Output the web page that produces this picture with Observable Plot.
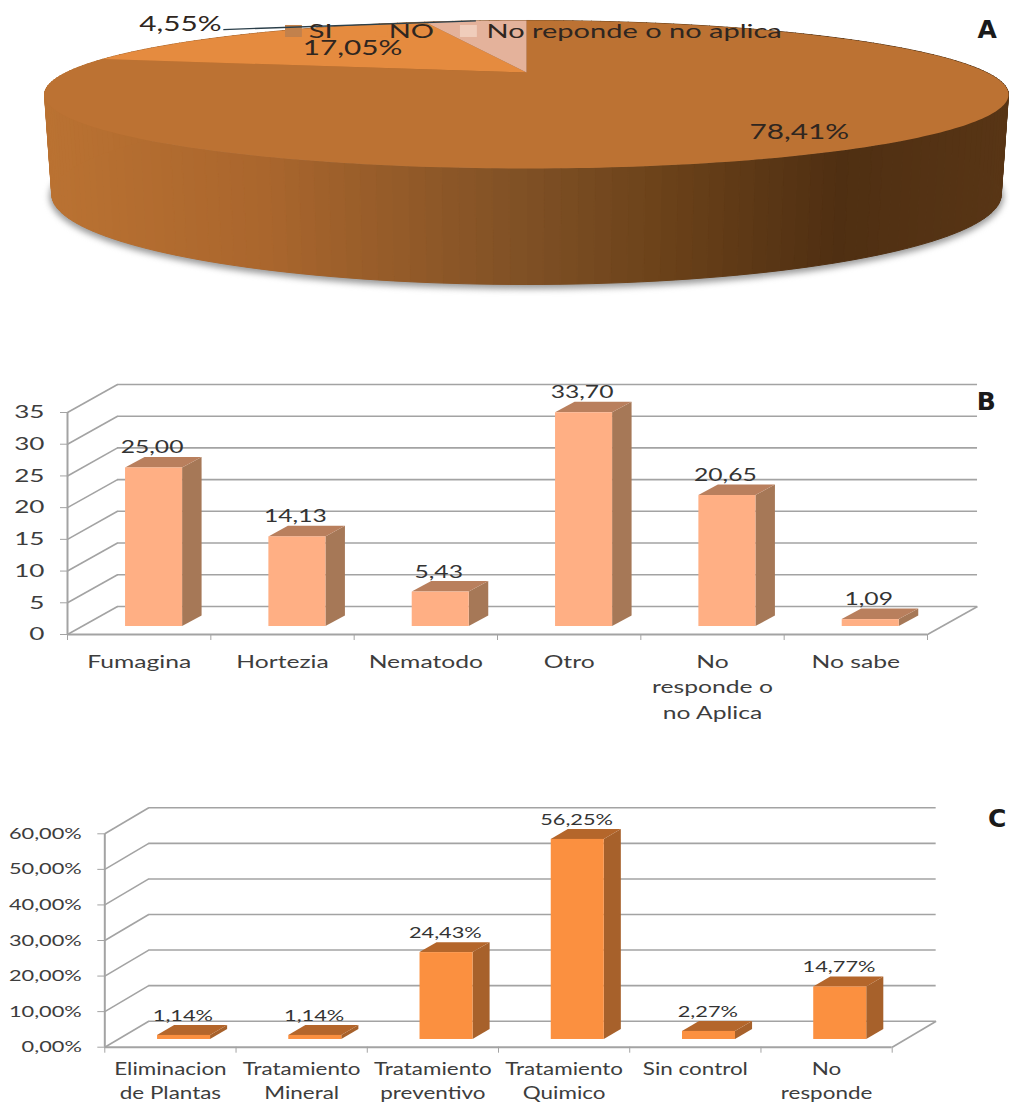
<!DOCTYPE html>
<html lang="es">
<head>
<meta charset="utf-8">
<title>Encuesta fitosanitaria</title>
<script src="https://cdn.jsdelivr.net/npm/d3@7"></script>
<script src="https://cdn.jsdelivr.net/npm/@observablehq/plot@0.6"></script>
<style>
  html, body { margin: 0; padding: 0; background: #fff; }
  svg { display: block; }
</style>
</head>
<body>
<div id="charts"></div>
<script>
// Panel A: ¿presenta plagas? (percent of answers)
const pieNames = ["SI", "NO", "No reponde o no aplica"];
const pieValues = [78.41, 17.05, 4.55];
const pieColors = ["#bc7233", "#e58b3f", "#e4b29b"];
const pieSwatches = ["#c2814c", "#e58b3f", "#f0cdbb"];

// Panel B: tipo de plaga
const plagueNames = [["Fumagina"], ["Hortezia"], ["Nematodo"], ["Otro"], ["No", "responde o", "no Aplica"], ["No sabe"]];
const plagueValues = [25.00, 14.13, 5.43, 33.70, 20.65, 1.09];
const plagueTicks = [0, 5, 10, 15, 20, 25, 30, 35];

// Panel C: tipo de control
const controlNames = [["Eliminacion", "de Plantas"], ["Tratamiento", "Mineral"], ["Tratamiento", "preventivo"], ["Tratamiento", "Quimico"], ["Sin control"], ["No", "responde"]];
const controlValues = [1.14, 1.14, 24.43, 56.25, 2.27, 14.77];
const controlTicks = [0, 10, 20, 30, 40, 50, 60];

const INK = "#3d3d3d";
const GRID = "#a3a3a3";
const FONT = "Lato, 'Open Sans', sans-serif";

const comma = (v, digits = 2) => v.toFixed(digits).replace(".", ",");

// Stretches glyphs horizontally once a chart is in the document.
function widen(svg, k) {
  svg.querySelectorAll("text").forEach((t) => {
    if (t.closest("g.letter") || !t.textContent.trim()) return;
    t.setAttribute("textLength", (t.getComputedTextLength() * k).toFixed(1));
    t.setAttribute("lengthAdjust", "spacingAndGlyphs");
  });
}

/* ---------- Panel A: pie in perspective ---------- */
const tilt = 0.2973;
const flat = Math.sqrt(1 - tilt * tilt);
const rim = (deg) => {
  const a = (deg * Math.PI) / 180;
  const u = Math.sin(a), v = Math.cos(a), d = 1 + tilt * v;
  return { x: (u / d) * flat, y: v / d };
};
// The lower edge of the cylinder, seen at a slightly steeper angle.
const foot = (p) => ({ x: p.x * 0.985, y: p.y * 1.216 - 1.412 });

const total = d3.sum(pieValues);
let sweep = 0;
const spans = pieValues.map((v, i) => {
  const from = sweep;
  sweep += (v / total) * 360;
  return { i, from, to: sweep };
});

const faces = spans.flatMap(({ i, from, to }) => {
  const steps = Math.ceil(to - from);
  const arc = d3.range(steps + 1).map((s) => rim(from + ((to - from) * s) / steps));
  return [{ x: 0, y: 0 }, ...arc, { x: 0, y: 0 }].map((p) => ({ ...p, fill: pieColors[i] }));
});

const wallShade = d3.scaleLinear()
  .domain([-1, -0.55, 0, 0.3, 0.65, 1])
  .range(["#ba7232", "#aa662d", "#7f5025", "#6a4119", "#4f2f12", "#583515"]);
const wall = d3.range(0, 360, 1.5).flatMap((deg) => {
  const a = rim(deg), b = rim(deg + 1.5);
  const fill = wallShade((a.x + b.x) / 2);
  return [a, b, foot(b), foot(a), a].map((p) => ({ ...p, strip: deg, fill }));
});
const footline = d3.range(0, 361, 3).map((deg) => foot(rim(deg)));

const pieLabels = [
  { text: comma(pieValues[0]) + "%", x: 0.566, y: -0.889 },
  { text: comma(pieValues[1]) + "%", x: -0.361, y: 0.36 },
  { text: comma(pieValues[2]) + "%", x: -0.718, y: 0.71 }
];
const legendRows = [
  { text: pieNames[0], x: -0.452, x1: -0.5, x2: -0.465, fill: pieSwatches[0] },
  { text: pieNames[1], x: -0.286, x1: -0.313, x2: -0.288, fill: pieSwatches[1] },
  { text: pieNames[2], x: -0.083, x1: -0.137, x2: -0.102, fill: pieSwatches[2] }
];
const leaderStart = { x: -0.629, y: 0.637 };
const leaderEnd = rim(spans[2].from + (spans[2].to - spans[2].from) / 2);

const pieChart = Plot.plot({
  width: 1010, height: 340,
  margin: 0,
  x: { domain: [-1, 1], range: [44, 1008], axis: null },
  y: { domain: [1 / (1 + tilt), -1 / (1 - tilt)], range: [20, 168], axis: null },
  color: { type: "identity" },
  style: { fontFamily: FONT, background: "transparent" },
  marks: [
    Plot.line(footline, { x: "x", y: "y", fill: "#9b9b9b", stroke: "#9b9b9b", strokeWidth: 5, imageFilter: "blur(3px)", dy: 2 }),
    Plot.line(wall, { x: "x", y: "y", z: "strip", fill: "fill", stroke: "fill", strokeWidth: 1 }),
    Plot.line(faces, { x: "x", y: "y", z: "fill", fill: "fill", stroke: "none" }),
    Plot.rect(legendRows, { x1: "x1", x2: "x2", y1: 0.697, y2: 0.519, fill: "fill" }),
    Plot.link([0], { x1: leaderStart.x, y1: leaderStart.y, x2: leaderEnd.x, y2: leaderEnd.y, stroke: "#2b3f4a", strokeWidth: 1.3 }),
    Plot.text(legendRows, { x: "x", y: 0.608, text: "text", textAnchor: "start", fontSize: 20, fill: "#2f2620" }),
    Plot.text(pieLabels, { x: "x", y: "y", text: "text", fontSize: 20.5, fill: "#2f2620" }),
    Plot.text(["A"], { x: 0.956, y: 0.637, text: (d) => d, fontSize: 25, fontWeight: 700, fontFamily: "'DejaVu Sans'", fill: "#1a1a1a", className: "letter" })
  ]
});

/* ---------- Panels B and C: columns in a box ---------- */
function boxChart({ names, values, ticks, tickText, format, colors, box, letter, layout }) {
  const n = values.length;
  const top = ticks[ticks.length - 1];
  const { wallX, wallY, floorX, floorY, depthX, depthY, barLeft, barW, labelDy, rowDy, rowStep } = box;

  const rows = values.map((v, i) => ({
    i, v, l: i + barLeft, r: i + barLeft + barW, base: floorY, head: floorY + v
  }));
  const sides = rows.flatMap((d) => [
    { i: d.i, x: d.r, y1: d.base, y2: d.head },
    { i: d.i, x: d.r + depthX, y1: d.base + depthY, y2: d.head + depthY }
  ]);
  const lids = rows.flatMap((d) => [
    { i: d.i, y: d.head, x1: d.l, x2: d.r },
    { i: d.i, y: d.head + depthY, x1: d.l + depthX, x2: d.r + depthX }
  ]);
  const captionRows = names.flatMap((lines, i) => lines.map((text, row) => ({ i, text, row })));

  return Plot.plot({
    ...layout,
    width: 1010,
    x: { domain: [0, n], axis: null },
    y: { domain: [0, top], axis: null },
    style: { fontFamily: FONT, background: "transparent" },
    marks: [
      // back wall, side wall and floor
      Plot.ruleY(ticks, { x1: wallX, x2: n + wallX, y: (d) => d + wallY, stroke: GRID, strokeWidth: 1.6 }),
      Plot.link(ticks, { x1: 0, y1: (d) => d, x2: wallX, y2: (d) => d + wallY, stroke: GRID, strokeWidth: 1.6 }),
      Plot.link([0], { x1: n, y1: 0, x2: n + wallX, y2: wallY, stroke: GRID, strokeWidth: 1.6 }),
      // columns
      Plot.areaY(sides, { x: "x", y1: "y1", y2: "y2", z: "i", fill: colors.side }),
      Plot.areaX(lids, { y: "y", x1: "x1", x2: "x2", z: "i", fill: colors.lid }),
      Plot.rect(rows, { x1: "l", x2: "r", y1: "base", y2: "head", fill: colors.front }),
      // axes
      Plot.ruleX([0], { y1: 0, y2: top, stroke: GRID, strokeWidth: 2 }),
      Plot.ruleY([0], { x1: 0, x2: n, stroke: GRID, strokeWidth: 2 }),
      Plot.axisX({ ticks: d3.range(n + 1), tickSize: 6, tickFormat: () => "", stroke: GRID, label: null }),
      Plot.axisY({ ticks, tickSize: 7, tickPadding: box.tickPadding, tickFormat: tickText, stroke: GRID, fill: INK, fontSize: box.tickFont, label: null }),
      Plot.text(captionRows, { x: (d) => d.i + 0.5, y: 0, text: "text", fill: INK, fontSize: box.captionFont, render: shiftRows(rowDy, rowStep) }),
      Plot.text(rows, { x: (d) => d.i + 0.5 + floorX - 0.01, y: "head", dy: labelDy, text: (d) => format(d.v), fill: "#333", fontSize: box.valueFont }),
      Plot.text([letter.text], { x: letter.x, y: letter.y, text: (d) => d, fontSize: 25, fontWeight: 700, fontFamily: "'DejaVu Sans'", fill: "#1a1a1a", className: "letter" })
    ]
  });
}

// Moves each caption line below the axis according to its line number.
function shiftRows(first, step) {
  return function (index, scales, values, dimensions, context, next) {
    const g = next(index, scales, values, dimensions, context);
    const data = this.data;
    g.querySelectorAll("text").forEach((t, k) => {
      const row = data[index[k]].row;
      t.setAttribute("dy", first + row * step);
    });
    return g;
  };
}

const plagueChart = boxChart({
  names: plagueNames, values: plagueValues, ticks: plagueTicks,
  tickText: (d) => String(d),
  format: (v) => comma(v),
  colors: { front: "#ffaf84", side: "#a67857", lid: "#b97f5d" },
  letter: { text: "B", x: 6.41, y: 36.6 },
  layout: { height: 420, marginTop: 72, marginBottom: 126, marginLeft: 67, marginRight: 83 },
  box: {
    wallX: 0.349, wallY: 4.42, floorX: 0.1, floorY: 1.26, depthX: 0.136, depthY: 1.66,
    barLeft: 0.405, barW: 0.398, labelDy: -20, rowDy: 28, rowStep: 25.5,
    tickPadding: 16, tickFont: 18, captionFont: 17, valueFont: 17
  }
});

const controlChart = boxChart({
  names: controlNames, values: controlValues, ticks: controlTicks,
  tickText: (d) => comma(d) + "%",
  format: (v) => comma(v) + "%",
  colors: { front: "#fb9040", side: "#a7612b", lid: "#b4662b" },
  letter: { text: "C", x: 6.8, y: 64.3 },
  layout: { height: 345, marginTop: 73.3, marginBottom: 58.3, marginLeft: 104.3, marginRight: 118.3 },
  box: {
    wallX: 0.335, wallY: 7.31, floorX: 0.105, floorY: 2.17, depthX: 0.13, depthY: 2.8,
    barLeft: 0.402, barW: 0.404, labelDy: -20, rowDy: 23, rowStep: 24,
    tickPadding: 16, tickFont: 16, captionFont: 16.5, valueFont: 16
  }
});

const holder = document.getElementById("charts");
holder.append(pieChart, plagueChart, controlChart);
widen(pieChart, 1.45);
widen(plagueChart, 1.45);
widen(controlChart, 1.36);
</script>
</body>
</html>
